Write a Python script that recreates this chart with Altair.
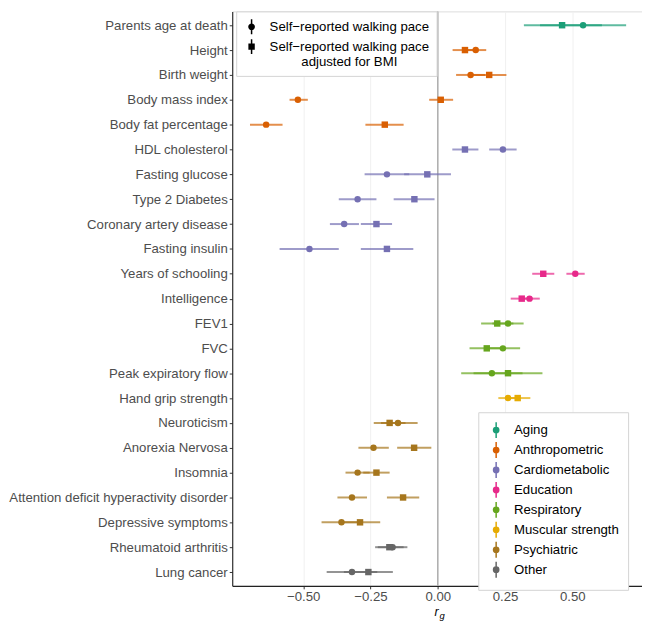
import altair as alt
import pandas as pd

traits = [
    "Parents age at death", "Height", "Birth weight", "Body mass index",
    "Body fat percentage", "HDL cholesterol", "Fasting glucose", "Type 2 Diabetes",
    "Coronary artery disease", "Fasting insulin", "Years of schooling", "Intelligence",
    "FEV1", "FVC", "Peak expiratory flow", "Hand grip strength", "Neuroticism",
    "Anorexia Nervosa", "Insomnia", "Attention deficit hyperactivity disorder",
    "Depressive symptoms", "Rheumatoid arthritis", "Lung cancer",
]
trait_category = [
    "Aging", "Anthropometric", "Anthropometric", "Anthropometric",
    "Anthropometric", "Cardiometabolic", "Cardiometabolic", "Cardiometabolic",
    "Cardiometabolic", "Cardiometabolic", "Education", "Education",
    "Respiratory", "Respiratory", "Respiratory", "Muscular strength", "Psychiatric",
    "Psychiatric", "Psychiatric", "Psychiatric",
    "Psychiatric", "Other", "Other",
]
category_order = ["Aging", "Anthropometric", "Cardiometabolic", "Education",
                  "Respiratory", "Muscular strength", "Psychiatric", "Other"]
category_colors = ["#1B9E77", "#D95F02", "#7570B3", "#E7298A",
                   "#66A61E", "#E6AB02", "#A6761D", "#666666"]

# Self-reported walking pace (circles)
pace_est = [0.540, 0.141, 0.122, -0.520, -0.638, 0.242, -0.189, -0.298, -0.348, -0.477,
            0.511, 0.341, 0.261, 0.242, 0.201, 0.261, -0.148, -0.239, -0.298, -0.319,
            -0.358, -0.168, -0.319]
pace_lo = [0.38, 0.100, 0.068, -0.551, -0.698, 0.191, -0.272, -0.368, -0.401, -0.588,
           0.478, 0.303, 0.203, 0.178, 0.087, 0.225, -0.211, -0.295, -0.343, -0.373,
           -0.432, -0.223, -0.413]
pace_hi = [0.70, 0.180, 0.176, -0.483, -0.577, 0.293, -0.106, -0.228, -0.293, -0.368,
           0.546, 0.379, 0.319, 0.306, 0.315, 0.297, -0.075, -0.182, -0.253, -0.263,
           -0.284, -0.113, -0.225]
# Self-reported walking pace adjusted for BMI (squares)
bmi_est = [0.462, 0.101, 0.191, 0.011, -0.197, 0.101, -0.039, -0.087, -0.228, -0.189,
           0.392, 0.312, 0.221, 0.182, 0.261, 0.297, -0.179, -0.088, -0.228, -0.129,
           -0.289, -0.180, -0.258]
bmi_lo = [0.32, 0.055, 0.130, -0.032, -0.269, 0.054, -0.125, -0.164, -0.286, -0.286,
          0.351, 0.271, 0.161, 0.118, 0.133, 0.250, -0.238, -0.151, -0.277, -0.189,
          -0.364, -0.233, -0.349]
bmi_hi = [0.61, 0.147, 0.255, 0.057, -0.127, 0.151, 0.049, -0.012, -0.170, -0.091,
          0.433, 0.353, 0.281, 0.246, 0.389, 0.344, -0.120, -0.024, -0.179, -0.069,
          -0.214, -0.127, -0.167]

series_names = ["Self\u2212reported walking pace",
                "Self\u2212reported walking pace adjusted for BMI"]
x_ticks = [-0.5, -0.25, 0.0, 0.25, 0.5]

rows = []
for i, t in enumerate(traits):
    rows.append(dict(trait=t, category=trait_category[i], series=series_names[0],
                     est=pace_est[i], lo=pace_lo[i], hi=pace_hi[i]))
    rows.append(dict(trait=t, category=trait_category[i], series=series_names[1],
                     est=bmi_est[i], lo=bmi_lo[i], hi=bmi_hi[i]))
df = pd.DataFrame(rows)

FONT = "Liberation Sans"
x_scale = alt.Scale(domain=[-0.764, 0.759], nice=False, zero=False)
y_scale = alt.Scale(type="point", domain=traits, padding=0.556)

x_axis = alt.Axis(values=x_ticks, format=".2f", grid=True, gridColor="#F0F0F0",
                  gridWidth=1, domainColor="#222222", domainWidth=1.1,
                  tickColor="#333333", tickSize=3, labelFontSize=13.3,
                  labelColor="#4D4D4D", labelPadding=1, title=None, labelFont=FONT)
y_axis = alt.Axis(grid=False, domainColor="#222222", domainWidth=1.1,
                  tickColor="#333333", tickSize=3, labelFontSize=13.3,
                  labelColor="#4D4D4D", labelPadding=2, title=None, labelFont=FONT,
                  labelLimit=400)

X = lambda f: alt.X(f, scale=x_scale, axis=x_axis)
Y = alt.Y("trait:N", scale=y_scale, axis=y_axis, sort=traits)

base = alt.Chart(df)


# legend glyphs (stroke-only paths: concentric rings form a solid dot, plus a vertical line)
def ring_path(radii):
    parts = []
    for r in radii:
        parts.append("M%.3f,0A%.3f,%.3f,0,1,0,%.3f,0A%.3f,%.3f,0,1,0,%.3f,0Z"
                     % (-r, r, r, r, r, r, -r))
    return "".join(parts)


def square_path(halves):
    return "".join("M%.3f,%.3fH%.3fV%.3fH%.3fZ" % (-h, -h, h, h, -h) for h in halves)


dot_glyph = ring_path([0.06, 0.15, 0.24, 0.33]) + "M0,-1L0,1"
circle_glyph = ring_path([0.07, 0.17, 0.27, 0.35]) + "M0,-1L0,1"
square_glyph = square_path([0.06, 0.16, 0.26, 0.33]) + "M0,-1L0,1"

zero = alt.Chart(pd.DataFrame({"x": [0.0]})).mark_rule(
    color="#A8A8A8", strokeWidth=1.4).encode(x=X("x:Q"))

col_scale = alt.Scale(domain=category_order, range=category_colors)

color_legend = alt.Legend(
    title=None, orient="none", legendX=248, legendY=404, padding=9,
    strokeColor="#D3D3D3", fillColor="white", symbolType=dot_glyph,
    symbolSize=256, symbolStrokeWidth=1.5, symbolOpacity=1,
    labelFontSize=13.3, labelColor="#000000",
    labelFont=FONT, labelOffset=9, rowPadding=-1.9, labelLimit=300)

bars = base.mark_rule(strokeWidth=2, opacity=0.7).encode(
    x=X("lo:Q"), x2="hi:Q", y=Y,
    color=alt.Color("category:N", scale=col_scale, legend=color_legend))


def point_layer(series, shape):
    return base.transform_filter(alt.datum.series == series).mark_point(
        shape=shape, filled=True, size=42, opacity=1).encode(
        x=X("est:Q"), y=Y,
        color=alt.Color("category:N", scale=col_scale, legend=None))


circles = point_layer(series_names[0], "circle")
squares = point_layer(series_names[1], "square")

shape_legend = alt.Legend(
    title=None, orient="none", legendX=4, legendY=0, padding=7,
    strokeColor="#D3D3D3", fillColor="white", symbolSize=225,
    symbolStrokeColor="black", symbolStrokeWidth=1.5, symbolOpacity=1,
    labelFontSize=13.3, labelColor="#000000", labelFont=FONT,
    labelAlign="center", labelOffset=90, rowPadding=-1, labelLimit=400,
    labelExpr="indexof(datum.label, 'BMI') >= 0 ? ['Self\u2212reported walking pace', 'adjusted for BMI'] : datum.label")

dummy = base.transform_filter("false").mark_point(filled=False, color="black").encode(
    x=X("est:Q"), y=Y,
    shape=alt.Shape("series:N",
                    scale=alt.Scale(domain=series_names, range=[circle_glyph, square_glyph]),
                    legend=shape_legend))

r_label = alt.Chart(pd.DataFrame({"t": ["r"]})).mark_text(
    font=FONT, fontSize=12.5, fontStyle="italic", color="#000000",
    baseline="alphabetic", align="center").encode(
    x=alt.value(206), y=alt.value(609), text="t:N")
g_label = alt.Chart(pd.DataFrame({"t": ["g"]})).mark_text(
    font=FONT, fontSize=9.5, fontStyle="italic", color="#000000",
    baseline="alphabetic", align="center").encode(
    x=alt.value(211.5), y=alt.value(612.5), text="t:N")

chart = alt.layer(zero, bars, circles, squares, dummy, r_label, g_label).resolve_scale(
    shape="independent").properties(
    width=413, height=579, padding={"left": 0, "top": 0, "right": 0, "bottom": 0}
).configure_view(stroke=None).configure(font=FONT)

chart.save("out.html", embed_options={"renderer": "svg", "actions": False})
